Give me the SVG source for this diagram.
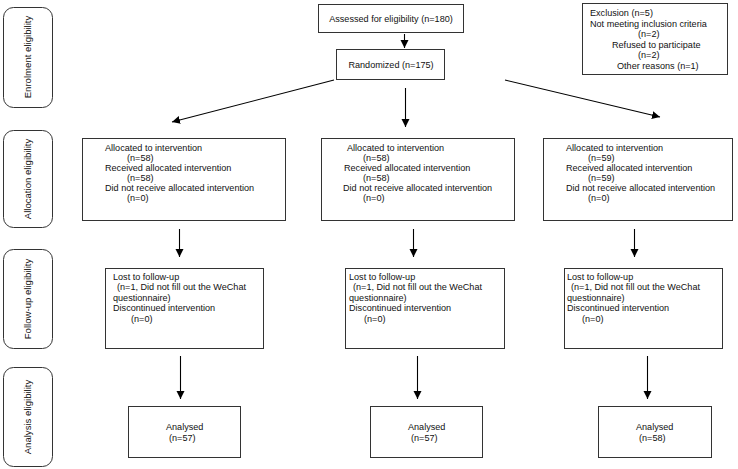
<svg xmlns="http://www.w3.org/2000/svg" width="738" height="469" viewBox="0 0 738 469">
<style>
.box{fill:#fff;stroke:#333;stroke-width:1}
.side{fill:#fff;stroke:#333;stroke-width:1}
text{font-family:"Liberation Sans",Arial,sans-serif;font-size:9.1px;fill:#111}
.side-t{font-size:9.6px;text-anchor:middle}
.c{text-anchor:middle}
.con line{stroke:#000;stroke-width:1.1;fill:none}
</style>
<defs>
<marker id="ah" viewBox="0 0 10 10" refX="10" refY="5" markerWidth="8" markerHeight="9" markerUnits="userSpaceOnUse" orient="auto">
<path d="M0,0 L10,5 L0,10 z" fill="#000"/>
</marker>
</defs>
<rect width="738" height="469" fill="#fff"/>

<g id="side-enrolment"><rect class="side" x="3.5" y="7.5" width="49" height="100" rx="10"/><text class="side-t" transform="translate(31,57) rotate(-90)">Enrolment  eligibility</text></g>
<g id="side-allocation"><rect class="side" x="3.5" y="130.5" width="49" height="97" rx="10"/><text class="side-t" transform="translate(31,179) rotate(-90)">Allocation  eligibility</text></g>
<g id="side-followup"><rect class="side" x="3.5" y="249.5" width="49" height="99" rx="10"/><text class="side-t" transform="translate(31,299) rotate(-90)">Follow-up eligibility</text></g>
<g id="side-analysis"><rect class="side" x="3.5" y="367.5" width="49" height="99" rx="10"/><text class="side-t" transform="translate(31,417) rotate(-90)">Analysis  eligibility</text></g>

<g id="assessed"><rect class="box" x="318.5" y="4.5" width="145" height="28"/><text class="c" x="391" y="21.5">Assessed for eligibility (n=180)</text></g>
<g id="randomized"><rect class="box" x="336.5" y="49.5" width="108" height="30"/><text class="c" x="391" y="67.5">Randomized (n=175)</text></g>
<g id="exclusion"><rect class="box" x="582.5" y="3.5" width="145" height="71"/>
<text x="590" y="16">Exclusion (n=5)</text>
<text x="590" y="26.5">Not meeting inclusion criteria</text>
<text x="638" y="37">(n=2)</text>
<text x="612" y="47.5">Refused to participate</text>
<text x="638" y="58">(n=2)</text>
<text x="617" y="68.5">Other reasons (n=1)</text></g>

<g id="alloc-1"><rect class="box" x="82.5" y="138.5" width="203" height="82"/>
<text x="105" y="151">Allocated to intervention</text>
<text x="127" y="161">(n=58)</text>
<text x="105" y="171">Received allocated intervention</text>
<text x="127" y="181">(n=58)</text>
<text x="105" y="191">Did not receive allocated intervention</text>
<text x="127" y="201">(n=0)</text></g>
<g id="alloc-2"><rect class="box" x="321.5" y="138.5" width="193" height="82"/>
<text x="347" y="151">Allocated to intervention</text>
<text x="363" y="161">(n=58)</text>
<text x="344" y="171">Received allocated intervention</text>
<text x="363" y="181">(n=58)</text>
<text x="343" y="191">Did not receive allocated intervention</text>
<text x="363" y="201">(n=0)</text></g>
<g id="alloc-3"><rect class="box" x="543.5" y="138.5" width="189" height="82"/>
<text x="566" y="151">Allocated to intervention</text>
<text x="588" y="161">(n=59)</text>
<text x="566" y="171">Received allocated intervention</text>
<text x="588" y="181">(n=59)</text>
<text x="566" y="191">Did not receive allocated intervention</text>
<text x="588" y="201">(n=0)</text></g>

<g id="follow-1"><rect class="box" x="105.5" y="268.5" width="158" height="80"/>
<text x="113" y="279.5">Lost to follow-up</text>
<text x="117" y="290">(n=1,  Did not fill out the WeChat</text>
<text x="113" y="300.5">questionnaire)</text>
<text x="113" y="311">Discontinued  intervention</text>
<text x="131" y="321.5">(n=0)</text></g>
<g id="follow-2"><rect class="box" x="345.5" y="268.5" width="159" height="80"/>
<text x="349" y="279.5">Lost to follow-up</text>
<text x="353" y="290">(n=1,  Did not fill out the WeChat</text>
<text x="349" y="300.5">questionnaire)</text>
<text x="349" y="311">Discontinued intervention</text>
<text x="364" y="321.5">(n=0)</text></g>
<g id="follow-3"><rect class="box" x="564.5" y="268.5" width="158" height="80"/>
<text x="567" y="279.5">Lost to follow-up</text>
<text x="571" y="290">(n=1,  Did not fill out the WeChat</text>
<text x="567" y="300.5">questionnaire)</text>
<text x="567" y="311">Discontinued intervention</text>
<text x="582" y="321.5">(n=0)</text></g>

<g id="analysed-1"><rect class="box" x="128.5" y="406.5" width="112" height="51"/><text x="166" y="430">Analysed</text><text x="169" y="441">(n=57)</text></g>
<g id="analysed-2"><rect class="box" x="370.5" y="406.5" width="112" height="51"/><text x="408" y="430">Analysed</text><text x="411" y="441">(n=57)</text></g>
<g id="analysed-3"><rect class="box" x="598.5" y="406.5" width="113" height="51"/><text x="636" y="430">Analysed</text><text x="639" y="441">(n=58)</text></g>

<g class="con" id="connectors">
<line x1="404.5" y1="34" x2="404.5" y2="48" marker-end="url(#ah)"/>
<line x1="334" y1="80" x2="172" y2="122" marker-end="url(#ah)"/>
<line x1="405.5" y1="88" x2="405.5" y2="127" marker-end="url(#ah)"/>
<line x1="505" y1="80" x2="660" y2="117" marker-end="url(#ah)"/>
<line x1="179.5" y1="229" x2="179.5" y2="257" marker-end="url(#ah)"/>
<line x1="413.5" y1="229" x2="413.5" y2="257" marker-end="url(#ah)"/>
<line x1="634.5" y1="229" x2="634.5" y2="257" marker-end="url(#ah)"/>
<line x1="180.5" y1="356" x2="180.5" y2="399" marker-end="url(#ah)"/>
<line x1="417.5" y1="356" x2="417.5" y2="399" marker-end="url(#ah)"/>
<line x1="647.5" y1="356" x2="647.5" y2="399" marker-end="url(#ah)"/>
</g>
</svg>
